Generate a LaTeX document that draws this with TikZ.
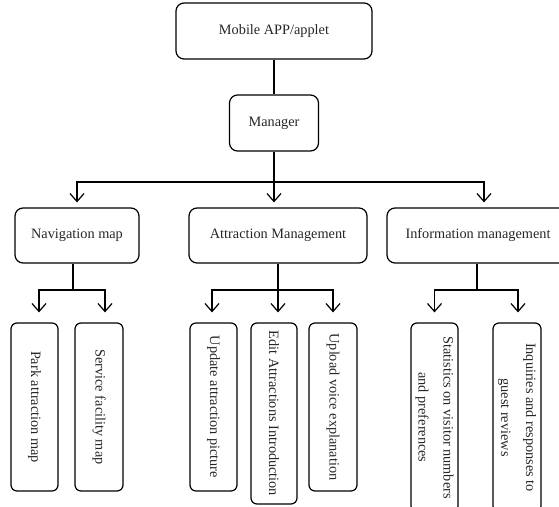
\documentclass[tikz,border=0pt]{standalone}
\usepackage{fontspec}
\setmainfont{Liberation Serif}
\usetikzlibrary{arrows.meta}
\begin{document}
\begin{tikzpicture}[x=1pt,y=-1pt,
  every node/.style={font=\fontsize{14.3}{17}\selectfont, text=black!85},
  box/.style={draw, line width=1.2pt, rounded corners=8pt, inner sep=0pt, align=center},
  vbox/.style={draw, line width=1.2pt, rounded corners=6pt, inner sep=0pt, align=center, rotate=-90},
  twoline/.style={font=\fontsize{14.3}{25}\selectfont},
  link/.style={line width=1.2pt},
  arr/.style={line width=1.2pt, -{Straight Barb[length=8pt,width=14pt,line width=1.2pt]}}
]
\useasboundingbox (0,0) rectangle (559,506);
\clip (0,0) rectangle (559,506);

% upper levels
\node[box, minimum width=196pt, minimum height=56pt] (app) at (274,31) {Mobile APP/applet};
\node[box, minimum width=89pt, minimum height=56pt] (mgr) at (274,123) {Manager};

% second level
\node[box, minimum width=124pt, minimum height=55pt] (nav) at (77,235.5) {Navigation map};
\node[box, minimum width=178pt, minimum height=55pt] (attr) at (278,235.5) {Attraction Management};
\node[box, minimum width=182pt, minimum height=55pt] (info) at (478,235.5) {Information management};

% leaves (text runs top to bottom)
\node[vbox, minimum width=168pt, minimum height=47pt] (park) at (34.5,407) {Park attraction map};
\node[vbox, minimum width=168pt, minimum height=48pt] (serv) at (99,407) {Service facility map};
\node[vbox, minimum width=168pt, minimum height=47pt] (upd) at (213.5,407) {Update attraction picture};
\node[vbox, minimum width=181pt, minimum height=46pt] (edit) at (274,413.5) {Edit Attractions Introduction};
\node[vbox, minimum width=168pt, minimum height=48pt] (upl) at (333,407) {Upload voice explanation};
\node[vbox, twoline, minimum width=189pt, minimum height=47pt] (stat) at (434.5,417.5) {Statistics on visitor numbers\\and preferences};
\node[vbox, twoline, minimum width=189pt, minimum height=48pt] (inq) at (517,417.5) {Inquiries and responses to\\guest reviews};

% connectors
\coordinate (bus) at (274,182);
\draw[link] (app.south) -- (mgr.north);
\draw[link] (mgr.south) -- (bus);
\draw[arr, shorten >=5pt] (bus) -| (nav.north);
\draw[arr, shorten >=5pt] (bus) -- (bus |- attr.north);
\draw[arr, shorten >=5pt] (bus) -| ([xshift=6pt]info.north);

\coordinate (nbus) at (73,290);
\draw[link] ([xshift=-4pt]nav.south) -- (nbus);
\draw[arr, shorten >=10pt] (nbus) -| ([xshift=4.5pt]park.west);
\draw[arr, shorten >=10pt] (nbus) -| ([xshift=6pt]serv.west);

\coordinate (abus) at (278,290);
\draw[link] (attr.south) -- (abus);
\draw[arr, shorten >=10pt] (abus) -| ([xshift=-1.5pt]upd.west);
\draw[arr, shorten >=10pt] (abus) -- (abus |- edit.west);
\draw[arr, shorten >=10pt] (abus) -| (upl.west);

\coordinate (ibus) at (477,290);
\draw[link] ([xshift=-1pt]info.south) -- (ibus);
\draw[arr, shorten >=10pt] (ibus) -| (stat.west);
\draw[arr, shorten >=10pt] (ibus) -| ([xshift=1pt]inq.west);
\end{tikzpicture}
\end{document}
